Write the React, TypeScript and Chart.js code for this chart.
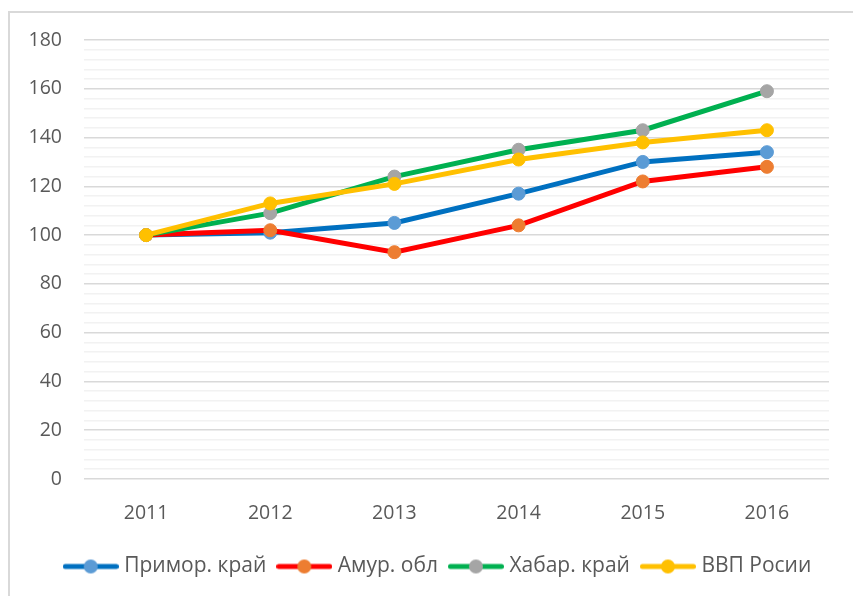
import React, { useEffect, useRef } from "react";
import { Chart, registerables } from "chart.js";

Chart.register(...registerables);

const years = ["2011", "2012", "2013", "2014", "2015", "2016"];
const primorValues = [100, 101, 105, 117, 130, 134];
const amurValues = [100, 102, 93, 104, 122, 128];
const khabarValues = [100, 109, 124, 135, 143, 159];
const vvpValues = [100, 113, 121, 131, 138, 143];
const seriesNames = ["Примор. край", "Амур. обл", "Хабар. край", "ВВП Росии"];

const lineColors = ["#0070C0", "#FF0000", "#00B050", "#FFC000"];
const markerColors = ["#5B9BD5", "#ED7D31", "#A5A5A5", "#FFC000"];

const FONT = "'Open Sans', sans-serif";
const TEXT = "#595959";

function makeLegendIcon(line: string, marker: string): HTMLCanvasElement {
  const c = document.createElement("canvas");
  c.width = 56;
  c.height = 16;
  const ctx = c.getContext("2d")!;
  ctx.strokeStyle = line;
  ctx.lineWidth = 5;
  ctx.lineCap = "round";
  ctx.beginPath();
  ctx.moveTo(2.5, 8);
  ctx.lineTo(53.5, 8);
  ctx.stroke();
  ctx.fillStyle = marker;
  ctx.beginPath();
  ctx.arc(28, 8, 7, 0, Math.PI * 2);
  ctx.fill();
  return c;
}

const framePlugin = {
  id: "frame",
  beforeDraw(chart: any) {
    const ctx = chart.ctx;
    ctx.save();
    ctx.fillStyle = "#ffffff";
    ctx.fillRect(0, 0, chart.width, chart.height);
    ctx.strokeStyle = "#d9d9d9";
    ctx.lineWidth = 2;
    ctx.beginPath();
    ctx.moveTo(9, chart.height);
    ctx.lineTo(9, 12);
    ctx.lineTo(chart.width, 12);
    ctx.stroke();
    ctx.restore();
  },
};

const legendShiftPlugin = {
  id: "legendShift",
  afterLayout(chart: any) {
    if (chart.legend) {
      chart.legend.left += 21;
      chart.legend.right += 21;
    }
  },
};

export default function App() {
  const ref = useRef<HTMLCanvasElement | null>(null);
  useEffect(() => {
    if (!ref.current) return;
    const allValues = [primorValues, amurValues, khabarValues, vvpValues];
    const orders = [4, 3, 2, 1];
    const icons = seriesNames.map((_, i) => makeLegendIcon(lineColors[i], markerColors[i]));
    const chart = new Chart(ref.current, {
      type: "line",
      data: {
        labels: years,
        datasets: seriesNames.map((name, i) => ({
          label: name,
          data: allValues[i],
          borderColor: lineColors[i],
          backgroundColor: markerColors[i],
          pointBackgroundColor: markerColors[i],
          pointBorderColor: markerColors[i],
          pointBorderWidth: 1,
          pointRadius: 6.5,
          borderWidth: 5,
          tension: 0,
          order: orders[i],
        })),
      },
      options: {
        animation: false,
        responsive: false,
        maintainAspectRatio: false,
        layout: { padding: { left: 8, right: 24, top: 40, bottom: 9 } },
        scales: {
          x: {
            offset: true,
            grid: { display: false, offset: true },
            border: { display: false },
            ticks: { color: TEXT, font: { family: FONT, size: 19.5 }, padding: 15 },
            afterFit: (s: any) => { s.height = 62; },
          },
          y: {
            min: 0,
            max: 180,
            border: { display: false },
            grid: {
              drawTicks: false,
              color: (c: any) => (c.tick && c.tick.value % 20 === 0 ? "#d9d9d9" : "#f2f2f2"),
              lineWidth: 1.5,
            },
            ticks: {
              stepSize: 4,
              autoSkip: false,
              color: TEXT,
              font: { family: FONT, size: 19.5 },
              padding: 22,
              callback: (v: any) => (Number(v) % 20 === 0 ? String(v) : ""),
            },
            afterFit: (s: any) => { s.width = 76; },
          },
        },
        plugins: {
          legend: {
            position: "bottom",
            labels: {
              usePointStyle: true,
              pointStyleWidth: 46,
              boxHeight: 16,
              color: TEXT,
              font: { family: FONT, size: 21 },
              padding: 15,
              generateLabels: (ch: any) =>
                ch.data.datasets.map((d: any, i: number) => ({
                  text: d.label,
                  pointStyle: icons[i],
                  fillStyle: markerColors[i],
                  strokeStyle: lineColors[i],
                  lineWidth: 0,
                  hidden: false,
                  datasetIndex: i,
                  fontColor: TEXT,
                })),
            },
          },
          tooltip: { enabled: false },
        },
      },
      plugins: [framePlugin, legendShiftPlugin],
    });
    return () => chart.destroy();
  }, []);
  return (
    <div style={{ position: "absolute", left: 0, top: 0, width: 853, height: 596 }}>
      <canvas ref={ref} width={853} height={596} style={{ display: "block", width: 853, height: 596 }} />
    </div>
  );
}
